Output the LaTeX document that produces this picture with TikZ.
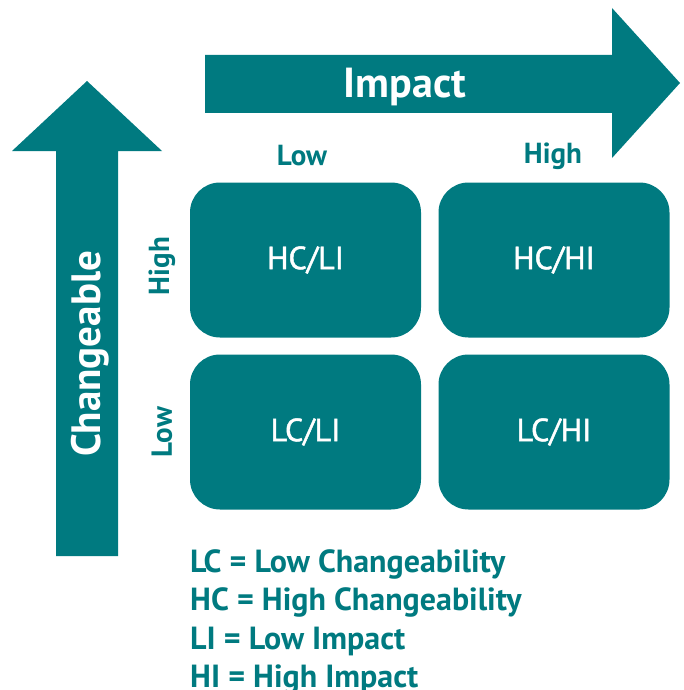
\documentclass[tikz,border=0pt]{standalone}
\usepackage{fontspec}
\setmainfont{PT Sans}
\newfontfamily\medfont[FakeBold=1.5]{PT Sans}
\definecolor{teal1}{RGB}{0,122,128}
\begin{document}
\begin{tikzpicture}[x=1pt,y=-1pt,
  shapefill/.style={fill=teal1,draw=none},
  cell/.style={shapefill,rounded corners=30pt,minimum width=231pt,minimum height=155pt,inner sep=0pt,text=white,font=\medfont\fontsize{32}{38}\selectfont},
  axislabel/.style={text=teal1,font=\bfseries\fontsize{29}{34}\selectfont,inner sep=0pt},
  legend/.style={text=teal1,font=\bfseries\fontsize{32}{38.5}\selectfont,inner sep=0pt,anchor=base west}]
\useasboundingbox (0,0) rectangle (684,690);
% Impact arrow
\path[shapefill] (205,55) -- (612,55) -- (612,8) -- (680,83) -- (612,158) -- (612,113) -- (205,113) -- cycle;
\node[text=white,font=\bfseries\fontsize{42}{50}\selectfont,inner sep=0pt] (impact) at (405,87) {Impact};
% Changeable arrow
\path[shapefill] (56,556) -- (56,151) -- (12,151) -- (87,81) -- (162,151) -- (118,151) -- (118,556) -- cycle;
\node[text=white,font=\bfseries\fontsize{41}{48}\selectfont,inner sep=0pt,rotate=90] (chg) at (90,354) {Changeable};
% cells
\node[cell] (hcli) at (305.5,260) {HC/LI};
\node[cell] (hchi) at (554,260) {HC/HI};
\node[cell] (lcli) at (305.5,432) {LC/LI};
\node[cell] (lchi) at (554,432) {LC/HI};
% axis labels
\node[axislabel] (lowx) at (302,156) {Low};
\node[axislabel] (highx) at (553,156) {High};
\node[axislabel,rotate=90] (highy) at (162,266) {High};
\node[axislabel,rotate=90] (lowy) at (162,432) {Low};
% legend
\node[legend] (l1) at (190,572) {LC = Low Changeability};
\node[legend] (l2) at (190,610.5) {HC = High Changeability};
\node[legend] (l3) at (190,649) {LI = Low Impact};
\node[legend] (l4) at (190,687) {HI = High Impact};
\end{tikzpicture}
\end{document}
